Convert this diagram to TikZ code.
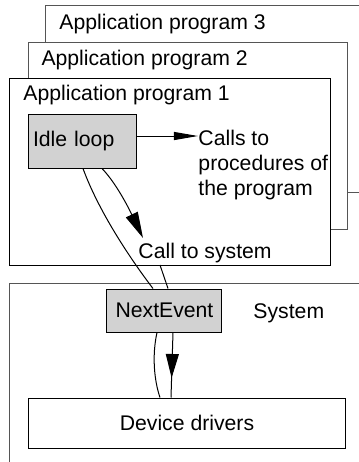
\documentclass[tikz,border=0pt]{standalone}
\usepackage{fontspec}
\setmainfont{Liberation Sans}
\usetikzlibrary{arrows.meta,decorations.markings}
\definecolor{screen}{HTML}{D2D2D2}
\definecolor{frame}{HTML}{555555}

\begin{document}
\begin{tikzpicture}[x=0.5pt,y=-0.5pt,line width=0.5pt,
  font=\fontsize{10.6}{12.5}\selectfont,
  txt/.style={inner sep=0pt, anchor=base west},
  shaded/.style={draw, fill=screen, inner sep=0pt},
  headarrow/.style={-{Triangle[length=13pt,width=6.5pt]}},
  midarrow/.style={postaction={decorate},
    decoration={markings, mark=at position 0.7 with {\arrow{Triangle[length=12pt,width=6.5pt]}}}}]
  \useasboundingbox (0,0) rectangle (359,462);
  \clip (0,0) rectangle (359,462);

  % Application programs, back to front
  \draw[frame, fill=white] (46,5) rectangle (380,192);
  \node[txt] (prog3) at (59,29) {Application program 3};
  \draw[frame, fill=white] (28,42) rectangle (348,229);
  \node[txt] (prog2) at (41,65) {Application program 2};
  \draw[fill=white] (10,78) rectangle (331,265);
  \node[txt] (prog1) at (23,100) {Application program 1};

  % System part
  \draw[frame] (10,283) rectangle (380,480);

  \node[shaded, minimum width=54.5pt, minimum height=27pt, text width=49.5pt,
    inner xsep=2.5pt, align=left] (idle) at (82.5,141) {Idle loop};
  \node[txt, align=left] (calls) at (198,195) {Calls to\\procedures of\\the program};
  \node[txt] (call) at (138,258) {Call to system};
  \node[shaded, minimum width=57.5pt, minimum height=21.5pt] (next) at (164.5,310.5) {NextEvent};
  \node[txt] (sys) at (253,318) {System};
  \node[draw, fill=white, minimum width=159pt, minimum height=25pt, inner sep=0pt]
    (drivers) at (187,423) {Device drivers};

  \coordinate (callin) at (143,238);
  \coordinate (callout) at (160,265);

  % Connectors
  \draw[-{Triangle[length=12pt,width=4pt]}] ([yshift=2.5pt]idle.east) -- ([yshift=2.5pt]idle.east -| calls.west);
  \draw[headarrow] ([xshift=9.75pt]idle.south) .. controls (118,185) and (132,215) .. (callin);
  \draw (callout) -- ([xshift=1.75pt]next.north);
  \draw ([xshift=0.25pt]idle.south) .. controls (100,215) and (135,265) .. ([xshift=-5.75pt]next.north);
  \draw ([xshift=-3.75pt]next.south) .. controls (152,355) and (154,380) .. ([xshift=-13.5pt]drivers.north);
  \draw[midarrow] ([xshift=4.25pt]next.south) -- ([xshift=-8pt]drivers.north);
\end{tikzpicture}
\end{document}
